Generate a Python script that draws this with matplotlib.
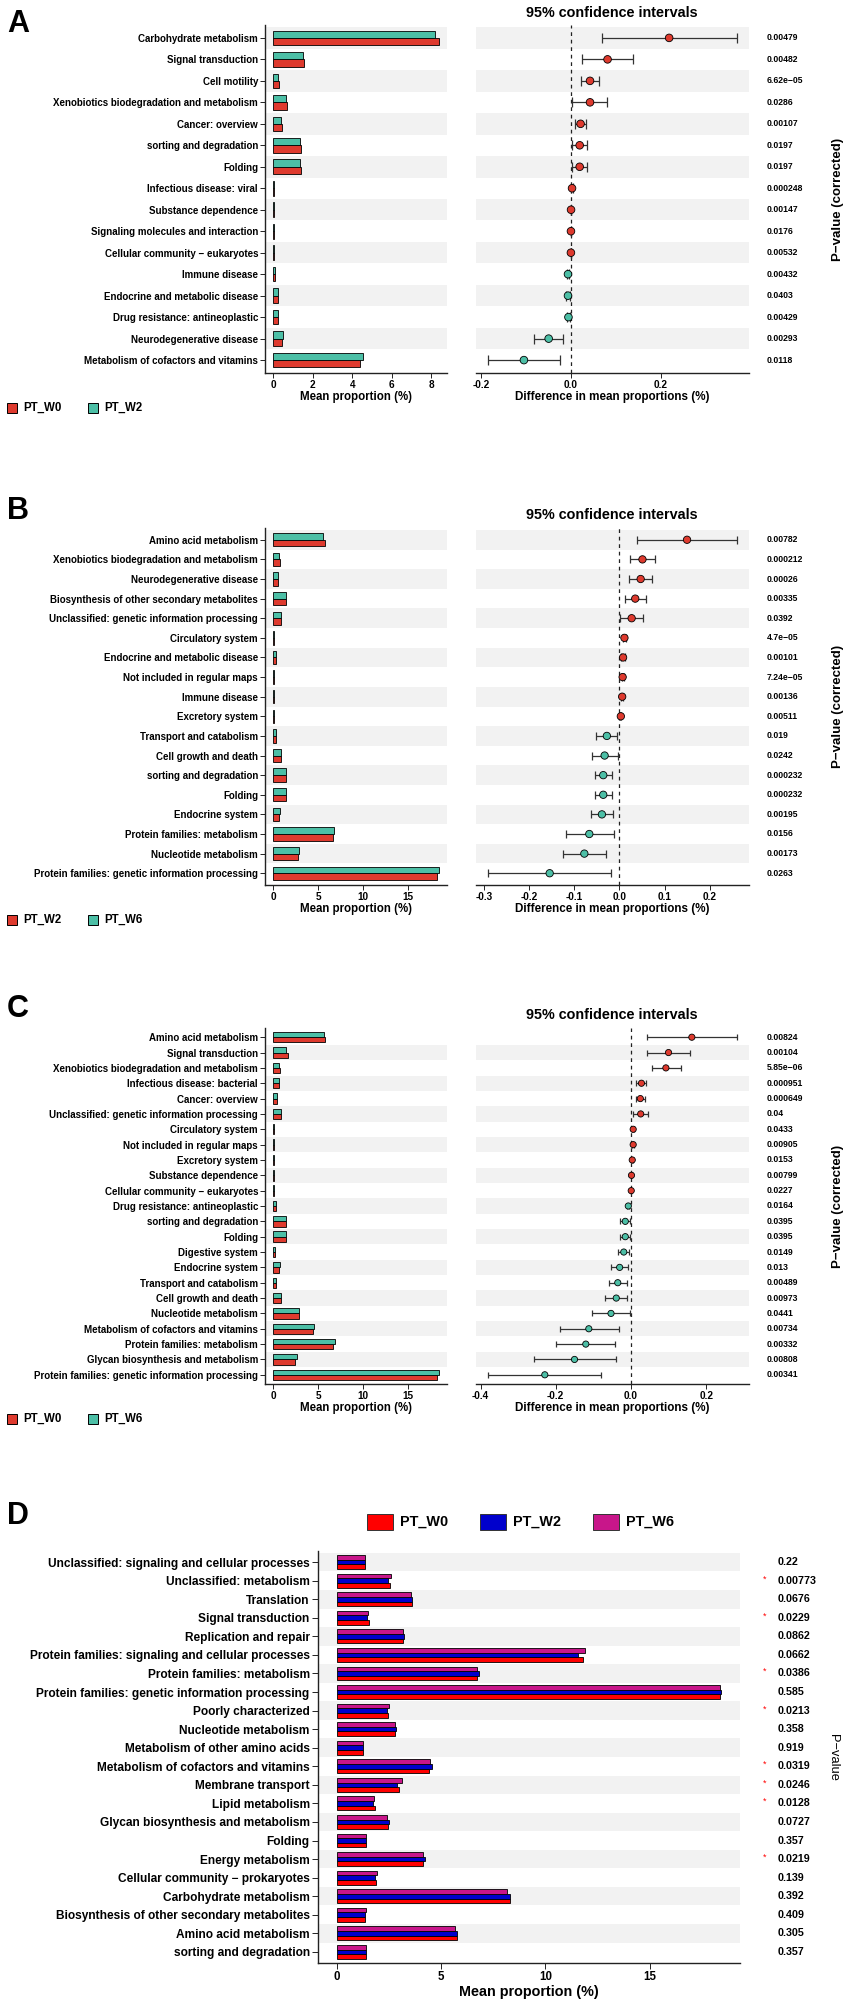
import matplotlib
matplotlib.use('Agg')
import matplotlib.pyplot as plt
import matplotlib.transforms as mtransforms
from matplotlib.patches import Rectangle
import numpy as np

plt.rcParams['font.family'] = ['Liberation Sans', 'DejaVu Sans']
plt.rcParams['axes.unicode_minus'] = False

W, H = 851, 2007
RED = '#DE3A2E'
TEAL = '#4CBFA6'
D_COLORS = ['#FF0000', '#0000CC', '#C8168A']
STRIPE = '#F2F2F2'
AXC = '#222222'

# ---------------- Panel A: PT_W0 vs PT_W2 ----------------
a_groups = ['PT_W0', 'PT_W2']
a_cats = ['Carbohydrate metabolism', 'Signal transduction', 'Cell motility',
          'Xenobiotics biodegradation and metabolism', 'Cancer: overview',
          'sorting and degradation', 'Folding', 'Infectious disease: viral',
          'Substance dependence', 'Signaling molecules and interaction',
          'Cellular community \u2212 eukaryotes', 'Immune disease',
          'Endocrine and metabolic disease', 'Drug resistance: antineoplastic',
          'Neurodegenerative disease', 'Metabolism of cofactors and vitamins']
a_m1 = [8.38, 1.58, 0.29, 0.71, 0.44, 1.40, 1.40, 0.06, 0.03, 0.02, 0.03, 0.07, 0.24, 0.22, 0.44, 4.41]
a_m2 = [8.17, 1.50, 0.24, 0.66, 0.40, 1.36, 1.36, 0.05, 0.03, 0.02, 0.03, 0.08, 0.25, 0.23, 0.49, 4.53]
a_diff = [0.219, 0.082, 0.043, 0.043, 0.022, 0.020, 0.020, 0.003, 0.0008, 0.0006, 0.0005,
          -0.006, -0.006, -0.005, -0.049, -0.104]
a_low = [0.069, 0.026, 0.023, 0.004, 0.010, 0.002, 0.002, 0.001, 0.0002, 0.0002, 0.0002,
         -0.009, -0.010, -0.008, -0.081, -0.183]
a_high = [0.369, 0.138, 0.063, 0.081, 0.035, 0.037, 0.037, 0.005, 0.0014, 0.0010, 0.0008,
          -0.003, -0.002, -0.002, -0.017, -0.024]
a_p = [0.00479, 0.00482, 6.62e-05, 0.0286, 0.00107, 0.0197, 0.0197, 0.000248, 0.00147,
       0.0176, 0.00532, 0.00432, 0.0403, 0.00429, 0.00293, 0.0118]

# ---------------- Panel B: PT_W2 vs PT_W6 ----------------
b_groups = ['PT_W2', 'PT_W6']
b_cats = ['Amino acid metabolism', 'Xenobiotics biodegradation and metabolism',
          'Neurodegenerative disease', 'Biosynthesis of other secondary metabolites',
          'Unclassified: genetic information processing', 'Circulatory system',
          'Endocrine and metabolic disease', 'Not included in regular maps', 'Immune disease',
          'Excretory system', 'Transport and catabolism', 'Cell growth and death',
          'sorting and degradation', 'Folding', 'Endocrine system',
          'Protein families: metabolism', 'Nucleotide metabolism',
          'Protein families: genetic information processing']
b_m1 = [5.78, 0.70, 0.52, 1.44, 0.85, 0.05, 0.26, 0.06, 0.10, 0.05, 0.31, 0.83, 1.38, 1.38, 0.66, 6.72, 2.81, 18.28]
b_m2 = [5.59, 0.63, 0.48, 1.37, 0.81, 0.04, 0.25, 0.05, 0.09, 0.05, 0.34, 0.87, 1.42, 1.42, 0.70, 6.78, 2.89, 18.47]
b_diff = [0.150, 0.051, 0.047, 0.035, 0.027, 0.011, 0.008, 0.007, 0.006, 0.003,
          -0.028, -0.033, -0.036, -0.036, -0.039, -0.067, -0.078, -0.155]
b_low = [0.040, 0.024, 0.022, 0.012, 0.001, 0.007, 0.004, 0.005, 0.004, 0.002,
         -0.052, -0.061, -0.054, -0.054, -0.063, -0.119, -0.125, -0.291]
b_high = [0.260, 0.078, 0.073, 0.059, 0.052, 0.015, 0.012, 0.009, 0.008, 0.004,
          -0.005, -0.004, -0.017, -0.017, -0.014, -0.013, -0.030, -0.019]
b_p = [0.00782, 0.000212, 0.00026, 0.00335, 0.0392, 4.7e-05, 0.00101, 7.24e-05, 0.00136,
       0.00511, 0.019, 0.0242, 0.000232, 0.000232, 0.00195, 0.0156, 0.00173, 0.0263]

# ---------------- Panel C: PT_W0 vs PT_W6 ----------------
c_groups = ['PT_W0', 'PT_W6']
c_cats = ['Amino acid metabolism', 'Signal transduction',
          'Xenobiotics biodegradation and metabolism', 'Infectious disease: bacterial',
          'Cancer: overview', 'Unclassified: genetic information processing',
          'Circulatory system', 'Not included in regular maps', 'Excretory system',
          'Substance dependence', 'Cellular community \u2212 eukaryotes',
          'Drug resistance: antineoplastic', 'sorting and degradation', 'Folding',
          'Digestive system', 'Endocrine system', 'Transport and catabolism',
          'Cell growth and death', 'Nucleotide metabolism',
          'Metabolism of cofactors and vitamins', 'Protein families: metabolism',
          'Glycan biosynthesis and metabolism',
          'Protein families: genetic information processing']
c_m1 = [5.78, 1.59, 0.73, 0.61, 0.44, 0.86, 0.06, 0.07, 0.05, 0.03, 0.03, 0.29, 1.38, 1.38,
        0.18, 0.66, 0.30, 0.82, 2.81, 4.37, 6.66, 2.44, 18.19]
c_m2 = [5.59, 1.44, 0.63, 0.59, 0.40, 0.82, 0.05, 0.06, 0.05, 0.03, 0.03, 0.31, 1.42, 1.42,
        0.20, 0.70, 0.33, 0.86, 2.89, 4.48, 6.81, 2.59, 18.37]
c_diff = [0.162, 0.100, 0.093, 0.028, 0.025, 0.026, 0.006, 0.006, 0.0035, 0.0015, 0.0008,
          -0.007, -0.015, -0.015, -0.019, -0.030, -0.035, -0.039, -0.053, -0.112, -0.120, -0.150, -0.229]
c_low = [0.043, 0.042, 0.057, 0.013, 0.013, 0.005, 0.004, 0.004, 0.002, 0.0005, 0.0002,
         -0.010, -0.030, -0.030, -0.035, -0.054, -0.058, -0.068, -0.104, -0.189, -0.199, -0.259, -0.379]
c_high = [0.281, 0.158, 0.132, 0.041, 0.037, 0.045, 0.008, 0.008, 0.005, 0.0025, 0.0014,
          -0.004, -0.002, -0.002, -0.004, -0.007, -0.011, -0.011, -0.002, -0.032, -0.042, -0.040, -0.079]
c_p = [0.00824, 0.00104, 5.85e-06, 0.000951, 0.000649, 0.04, 0.0433, 0.00905, 0.0153, 0.00799,
       0.0227, 0.0164, 0.0395, 0.0395, 0.0149, 0.013, 0.00489, 0.00973, 0.0441, 0.00734,
       0.00332, 0.00808, 0.00341]

# ---------------- Panel D: three groups ----------------
d_groups = ['PT_W0', 'PT_W2', 'PT_W6']
d_cats = ['Unclassified: signaling and cellular processes', 'Unclassified: metabolism',
          'Translation', 'Signal transduction', 'Replication and repair',
          'Protein families: signaling and cellular processes', 'Protein families: metabolism',
          'Protein families: genetic information processing', 'Poorly characterized',
          'Nucleotide metabolism', 'Metabolism of other amino acids',
          'Metabolism of cofactors and vitamins', 'Membrane transport', 'Lipid metabolism',
          'Glycan biosynthesis and metabolism', 'Folding', 'Energy metabolism',
          'Cellular community \u2212 prokaryotes', 'Carbohydrate metabolism',
          'Biosynthesis of other secondary metabolites', 'Amino acid metabolism',
          'sorting and degradation']
d_w0 = [1.34, 2.54, 3.57, 1.55, 3.14, 11.79, 6.70, 18.36, 2.46, 2.80, 1.26, 4.42, 2.97, 1.82,
        2.42, 1.37, 4.11, 1.86, 8.28, 1.34, 5.73, 1.37]
d_w2 = [1.34, 2.46, 3.60, 1.42, 3.22, 11.58, 6.81, 18.42, 2.38, 2.82, 1.26, 4.53, 2.86, 1.71,
        2.51, 1.37, 4.21, 1.82, 8.28, 1.34, 5.76, 1.37]
d_w6 = [1.34, 2.57, 3.54, 1.50, 3.14, 11.91, 6.73, 18.36, 2.49, 2.78, 1.26, 4.48, 3.10, 1.79,
        2.41, 1.37, 4.10, 1.90, 8.17, 1.36, 5.68, 1.37]
d_p = [0.22, 0.00773, 0.0676, 0.0229, 0.0862, 0.0662, 0.0386, 0.585, 0.0213, 0.358, 0.919,
       0.0319, 0.0246, 0.0128, 0.0727, 0.357, 0.0219, 0.139, 0.392, 0.409, 0.305, 0.357]


def rect(x0, y0, x1, y1):
    return [x0 / W, 1 - y1 / H, (x1 - x0) / W, (y1 - y0) / H]


def stripes(ax, n):
    for i in range(n):
        if (n - 1 - i) % 2 == 1:
            ax.axhspan(i - 0.5, i + 0.5, color=STRIPE, lw=0, zorder=0)


def fmt_p(p):
    return f'{p:.3g}'.replace('-', '\u2212')


def style_axis(ax, left=True):
    for s in ['top', 'right']:
        ax.spines[s].set_visible(False)
    ax.spines['left'].set_visible(left)
    for s in ['left', 'bottom']:
        ax.spines[s].set_color(AXC)
        ax.spines[s].set_linewidth(1.0)


def stamp(fig, y0, y1, letter_y, title_y, letter, groups, cats, m1, m2, diff, low, high, pv,
          bar_ticks, ci_ticks, ms, cap):
    n = len(cats)
    y = np.arange(n)
    diff, low, high = np.array(diff), np.array(low), np.array(high)

    # letter + title
    fig.text(7 / W, 1 - letter_y / H, letter, fontsize=22, fontweight='bold', va='baseline')
    fig.text(612 / W, 1 - title_y / H, '95% confidence intervals', fontsize=10.4,
             fontweight='bold', ha='center', va='baseline')

    # mean proportion bars
    axb = fig.add_axes(rect(265, y0, 447, y1))
    stripes(axb, n)
    h = 0.34
    axb.barh(y + h / 2, m1, height=h, color=RED, edgecolor='black', lw=0.6, zorder=2)
    axb.barh(y - h / 2, m2, height=h, color=TEAL, edgecolor='black', lw=0.6, zorder=2)
    mx = max(max(m1), max(m2))
    axb.set_xlim(-0.05 * mx, 1.05 * mx)
    axb.set_ylim(n - 0.4, -0.6)
    axb.set_yticks(y)
    axb.set_yticklabels(cats, fontsize=7.0, fontweight='bold')
    axb.set_xticks(bar_ticks)
    axb.set_xticklabels([f'{t:g}' for t in bar_ticks], fontsize=7.2, fontweight='bold')
    axb.tick_params(length=3.5, width=0.7, color=AXC, pad=1.5)
    axb.set_xlabel('Mean proportion (%)', fontsize=8.3, fontweight='bold', labelpad=1)
    style_axis(axb)

    # legend under the bars
    ly = y1 + 35
    for gx, g, col in zip([7, 88], groups, [RED, TEAL]):
        fig.add_artist(Rectangle((gx / W, 1 - (ly + 5) / H), 10 / W, 10 / H,
                                 transform=fig.transFigure, facecolor=col,
                                 edgecolor='black', lw=0.7))
        fig.text((gx + 16) / W, 1 - ly / H, g, fontsize=8.3, fontweight='bold', va='center')

    # confidence intervals
    axc = fig.add_axes(rect(476, y0, 749, y1))
    stripes(axc, n)
    r = high.max() - low.min()
    axc.set_xlim(low.min() - 0.05 * r, high.max() + 0.05 * r)
    axc.set_ylim(n - 0.4, -0.6)
    axc.axvline(0, color=AXC, ls=(0, (3, 3)), lw=0.9, zorder=1)
    axc.errorbar(diff, y, xerr=[diff - low, high - diff], fmt='none', ecolor='#333333',
                 elinewidth=0.9, capsize=cap, capthick=0.9, zorder=2)
    cols = [RED if d > 0 else TEAL for d in diff]
    axc.scatter(diff, y, s=ms, c=cols, edgecolors='black', linewidths=0.6, zorder=3)
    axc.set_yticks([])
    axc.set_xticks(ci_ticks)
    axc.set_xticklabels([f'{t:.1f}' for t in ci_ticks], fontsize=7.2, fontweight='bold')
    axc.tick_params(axis='x', length=3.5, width=0.7, color=AXC, pad=1.5)
    axc.set_xlabel('Difference in mean proportions (%)', fontsize=8.4, fontweight='bold',
                   labelpad=1)
    style_axis(axc, left=False)

    tr = mtransforms.blended_transform_factory(fig.transFigure, axc.transData)
    for i, p in enumerate(pv):
        axc.text(767 / W, i, fmt_p(p), transform=tr, fontsize=6.2, fontweight='bold',
                 va='center', ha='left')
    fig.text(838 / W, 1 - (y0 + y1) / 2 / H, 'P\u2212value (corrected)', rotation=90,
             fontsize=9.5, fontweight='bold', ha='center', va='center')


fig = plt.figure(figsize=(W / 100, H / 100), dpi=100)

stamp(fig, 25, 373, 32, 17, 'A', a_groups, a_cats, a_m1, a_m2, a_diff, a_low, a_high, a_p,
      [0, 2, 4, 6, 8], [-0.2, 0.0, 0.2], ms=30, cap=3.4)
stamp(fig, 528, 885, 519, 519, 'B', b_groups, b_cats, b_m1, b_m2, b_diff, b_low, b_high, b_p,
      [0, 5, 10, 15], [-0.3, -0.2, -0.1, 0.0, 0.1, 0.2], ms=28, cap=3.2)
stamp(fig, 1028, 1384, 1017, 1019, 'C', c_groups, c_cats, c_m1, c_m2, c_diff, c_low, c_high, c_p,
      [0, 5, 10, 15], [-0.4, -0.2, 0.0, 0.2], ms=20, cap=2.3)

# ---------------- Panel D ----------------
fig.text(7 / W, 1 - 1524 / H, 'D', fontsize=22, fontweight='bold', va='baseline')
for lx, g, col in zip([367, 480, 593], d_groups, D_COLORS):
    fig.add_artist(Rectangle((lx / W, 1 - 1530 / H), 26 / W, 16 / H,
                             transform=fig.transFigure, facecolor=col,
                             edgecolor='#333333', lw=0.7))
    fig.text((lx + 33) / W, 1 - 1522 / H, g, fontsize=10.4, fontweight='bold', va='center')

nd = len(d_cats)
yd = np.arange(nd)
axd = fig.add_axes(rect(318, 1551, 740, 1963))
stripes(axd, nd)
bh = 0.25
axd.barh(yd + bh, d_w0, height=bh, color=D_COLORS[0], edgecolor='black', lw=0.6, zorder=2)
axd.barh(yd, d_w2, height=bh, color=D_COLORS[1], edgecolor='black', lw=0.6, zorder=2)
axd.barh(yd - bh, d_w6, height=bh, color=D_COLORS[2], edgecolor='black', lw=0.6, zorder=2)
mxd = max(max(d_w0), max(d_w2), max(d_w6))
axd.set_xlim(-0.05 * mxd, 1.05 * mxd)
axd.set_ylim(nd - 0.4, -0.6)
axd.set_yticks(yd)
axd.set_yticklabels(d_cats, fontsize=8.6, fontweight='bold')
axd.set_xticks([0, 5, 10, 15])
axd.set_xticklabels(['0', '5', '10', '15'], fontsize=8.3, fontweight='bold')
axd.tick_params(length=4, width=0.7, color=AXC, pad=2)
axd.set_xlabel('Mean proportion (%)', fontsize=10.4, fontweight='bold', labelpad=1)
style_axis(axd)

trd = mtransforms.blended_transform_factory(fig.transFigure, axd.transData)
for i, p in enumerate(d_p):
    axd.text(778 / W, i, f'{p:g}', transform=trd, fontsize=7.7, fontweight='bold',
             va='center', ha='left')
    if p < 0.05:
        axd.text(763 / W, i - 0.1, '*', transform=trd, fontsize=6.5, color='#FF0000',
                 va='center', ha='left')
fig.text(833 / W, 1 - 1757 / H, 'P\u2212value', rotation=270, fontsize=9.3,
         ha='center', va='center')

fig.savefig('out.png', dpi=100)
